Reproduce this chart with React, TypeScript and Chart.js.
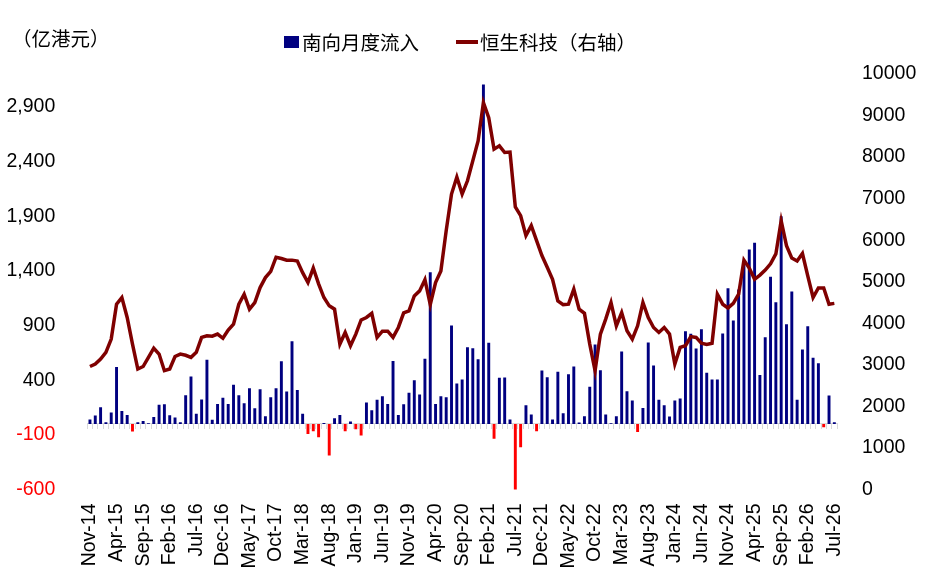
import { useEffect, useRef } from "react"
import { Chart, registerables } from "chart.js"

Chart.register(...registerables)

const MONTH_NAMES = ["Jan", "Feb", "Mar", "Apr", "May", "Jun", "Jul", "Aug", "Sep", "Oct", "Nov", "Dec"]
const FIRST_YEAR = 2014
const FIRST_MONTH = 10 // Nov
const LABEL_EVERY = 5

// 南向月度流入（亿港元），Nov-14 起每月
const southbound = [
  40, 76, 152, 15, 104, 521, 119, 82, -70, 15, 27, 5, 64, 174, 180, 79, 58, 15, 262, 433,
  92, 223, 586, 37, 183, 238, 183, 357, 262, 189, 326, 143, 317, 70, 244, 326, 573, 296, 756, 311,
  92, -92, -67, -122, 9, -290, 52, 82, -67, 21, -49, -107, 195, 125, 220, 253, 183, 576, 82, 180,
  284, 400, 268, 595, 1388, 183, 253, 244, 900, 369, 406, 702, 692, 592, 3105, 741, -137, 421, 424, 40,
  -625, -213, 171, 85, -67, 488, 427, 40, 476, 98, 454, 525, 12, 70, 339, 726, 491, 85, 5, 70,
  662, 299, 213, -73, 146, 744, 534, 220, 171, 67, 214, 232, 848, 824, 689, 866, 467, 406, 406, 827,
  1241, 946, 1230, 1464, 1595, 1656, 448, 793, 1345, 1113, 1900, 912, 1211, 220, 680, 894, 604, 555, -30, 259,
  15,
]

// 恒生科技（右轴）
const hsTech = [
  2960, 3020, 3140, 3300, 3620, 4460, 4620, 4140, 3500, 2900, 2960, 3180, 3400, 3260, 2860, 2900, 3200, 3260, 3230, 3180,
  3300, 3660, 3700, 3690, 3740, 3640, 3840, 3980, 4460, 4700, 4340, 4500, 4860, 5100, 5250, 5590, 5560, 5520, 5520, 5500,
  5220, 4980, 5330, 4950, 4620, 4420, 4340, 3500, 3780, 3460, 3740, 4080, 4140, 4240, 3660, 3810, 3810, 3660, 3900, 4250,
  4300, 4660, 4780, 5050, 4450, 4980, 5260, 6230, 7110, 7520, 7110, 7430, 7910, 8390, 9310, 8950, 8190, 8270, 8110, 8120,
  6800, 6590, 6110, 6350, 5990, 5630, 5350, 5060, 4540, 4450, 4460, 4820, 4340, 4240, 3500, 2860, 3740, 4100, 4500, 3940,
  4260, 3820, 3620, 3940, 4500, 4140, 3900, 3780, 3900, 3740, 3020, 3420, 3460, 3680, 3660, 3520, 3490, 3520, 4700, 4460,
  4370, 4480, 4700, 5520, 5330, 5060, 5160, 5280, 5430, 5670, 6470, 5870, 5570, 5500, 5680, 5140, 4620, 4850, 4850, 4460,
  4480,
]

const leftTicks = [-600, -100, 400, 900, 1400, 1900, 2400, 2900]
const rightTicks = [0, 1000, 2000, 3000, 4000, 5000, 6000, 7000, 8000, 9000, 10000]

const months = hsTech.map((_, i) => {
  const m = FIRST_MONTH + i
  const yy = (FIRST_YEAR + Math.floor(m / 12)) % 100
  return `${MONTH_NAMES[m % 12]}-${String(yy).padStart(2, "0")}`
})

const NAVY = "#000080"
const RED = "#FF0000"
const DARK_RED = "#7F0000"
const NUM_FONT = "'Liberation Sans', Arial, sans-serif"
const CJK_FONT = "'Noto Sans CJK SC', sans-serif"

export default function App() {
  const chartRef = useRef<HTMLCanvasElement>(null)

  useEffect(() => {
    if (!chartRef.current) return
    const ctx = chartRef.current.getContext("2d")
    if (!ctx) return

    const chart = new Chart(ctx, {
      type: "bar",
      data: {
        labels: months,
        datasets: [
          {
            type: "line",
            label: "恒生科技（右轴）",
            data: hsTech,
            yAxisID: "y1",
            borderColor: DARK_RED,
            borderWidth: 3.5,
            pointRadius: 0,
            tension: 0,
            order: 0,
          },
          {
            type: "bar",
            label: "南向月度流入",
            data: southbound,
            yAxisID: "y",
            backgroundColor: southbound.map((v) => (v < 0 ? RED : NAVY)),
            barPercentage: 0.55,
            categoryPercentage: 1,
            order: 1,
          },
        ],
      },
      options: {
        responsive: false,
        animation: false,
        layout: { padding: { top: 74, left: 0, right: 0, bottom: 0 } },
        plugins: {
          legend: { display: false },
          tooltip: { enabled: false },
        },
        scales: {
          x: {
            type: "category",
            offset: true,
            grid: { display: false },
            border: { display: false },
            ticks: {
              autoSkip: false,
              maxRotation: 90,
              minRotation: 90,
              padding: 6,
              color: "#000",
              font: { family: NUM_FONT, size: 19.5 },
              callback: (_v, i) => (i % LABEL_EVERY === 0 ? months[i] : ""),
            },
            afterFit: (s) => {
              s.height = 97.5
            },
          },
          xZero: {
            type: "category",
            position: { y: 0 },
            offset: true,
            grid: {
              display: true,
              offset: true,
              drawOnChartArea: false,
              drawTicks: true,
              tickLength: 5,
              color: "#D9D9D9",
            },
            border: { display: true, color: "#D9D9D9" },
            ticks: { display: false, autoSkip: false },
          },
          y: {
            position: "left",
            min: -600,
            max: 3200,
            grid: { display: false },
            border: { display: false },
            afterBuildTicks: (s) => {
              s.ticks = leftTicks.map((value) => ({ value }))
            },
            ticks: {
              padding: 24,
              font: { family: NUM_FONT, size: 19.5 },
              color: (c) => (c.tick && c.tick.value < 0 ? RED : "#000"),
              callback: (v) => Number(v).toLocaleString("en-US"),
            },
            afterFit: (s) => {
              s.width = 87.3
            },
          },
          y1: {
            position: "right",
            min: 0,
            max: 10000,
            grid: { display: false },
            border: { display: false },
            afterBuildTicks: (s) => {
              s.ticks = rightTicks.map((value) => ({ value }))
            },
            ticks: {
              padding: 17,
              color: "#000",
              font: { family: NUM_FONT, size: 19.5 },
              callback: (v) => String(v),
            },
            afterFit: (s) => {
              s.width = 89
            },
          },
        },
      },
    })

    return () => {
      chart.destroy()
    }
  }, [])

  return (
    <div style={{ position: "fixed", left: 0, top: 0, width: 926, height: 587, background: "#fff" }}>
      <canvas ref={chartRef} width={926} height={587} style={{ width: 926, height: 587 }} />
      <div
        style={{
          position: "absolute",
          left: 12,
          top: 26,
          font: `19.5px ${CJK_FONT}`,
          lineHeight: "24px",
          color: "#000",
          whiteSpace: "nowrap",
        }}
      >
        （亿港元）
      </div>
      <div
        style={{
          position: "absolute",
          left: 284,
          top: 30,
          height: 24,
          display: "flex",
          alignItems: "center",
          font: `19.5px ${CJK_FONT}`,
          lineHeight: "24px",
          color: "#000",
          whiteSpace: "nowrap",
        }}
      >
        <span style={{ display: "inline-block", width: 15, height: 12, background: NAVY, marginRight: 3 }} />
        <span>南向月度流入</span>
        <span style={{ display: "inline-block", width: 22, height: 4, background: DARK_RED, marginLeft: 37, marginRight: 2 }} />
        <span>恒生科技（右轴）</span>
      </div>
    </div>
  )
}
